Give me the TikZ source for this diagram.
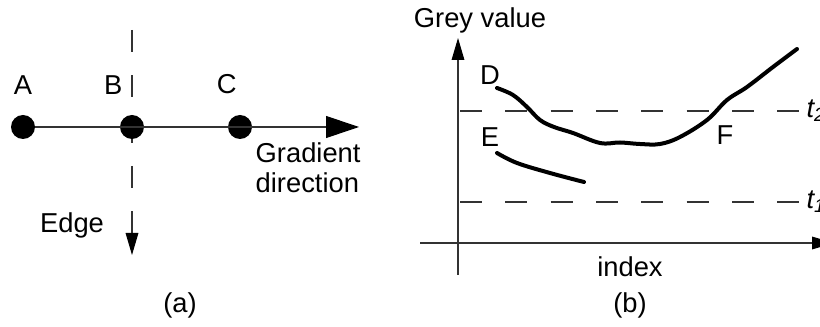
\documentclass[tikz,border=0pt]{standalone}
\usepackage{fontspec}
\setmainfont{Liberation Sans}
\usetikzlibrary{arrows.meta, positioning}

\begin{document}
\begin{tikzpicture}[x=0.75pt, y=-0.75pt, font=\fontsize{20.5}{22.5}\selectfont,
    dotnode/.style={circle, fill=black, inner sep=0pt, minimum size=18pt},
    thinline/.style={line width=0.8pt, draw=black!80},
    gapline/.style={thinline, dash pattern=on 16.5pt off 17.5pt},
    curveline/.style={line width=3pt, line cap=round},
    bigtip/.style={-{Triangle[length=24.75pt, width=16.5pt, color=black]}},
    smalltip/.style={-{Triangle[length=16.5pt, width=9.5pt, color=black]}}]
    \useasboundingbox (0,0) rectangle (820,327);

    % (a) pixels across an edge
    \coordinate (edgetop) at (132,30);
    \coordinate (edgetip) at (132,255);
    \draw [gapline, smalltip] (edgetop) -- (edgetip);

    \node [dotnode] (a) at (23,127) {};
    \node [dotnode] (b) at (132,127) {};
    \node [dotnode] (c) at (240,127) {};
    \node [above=12pt of a] (lblA) {A};
    \node [above=12pt of b, xshift=-14pt] (lblB) {B};
    \node [above=12pt of c, xshift=-10pt] (lblC) {C};

    \coordinate (gradtip) at (359,127);
    \draw [thinline, bigtip] (a) -- (gradtip);

    \node [anchor=west, align=left] (graddir) at (251,168) {Gradient\\direction};
    \node (edgelbl) at (72,225) {Edge};
    \node (capa) at (180,305) {(a)};

    % (b) grey value profiles
    \coordinate (yaxbot) at (458,275);
    \coordinate (yaxtip) at (458,38);
    \coordinate (xaxleft) at (420,243);
    \coordinate (xaxtip) at (834,243);
    \draw [thinline, smalltip] (yaxbot) -- (yaxtip);
    \draw [thinline, smalltip] (xaxleft) -- (xaxtip);

    \coordinate (tupl) at (460,111);
    \coordinate (tupr) at (805,111);
    \coordinate (tlol) at (460,202);
    \coordinate (tlor) at (805,202);
    \draw [gapline] (tupl) -- (tupr);
    \draw [gapline] (tlol) -- (tlor);
    \node [anchor=west, inner sep=1pt] (ttwo) at (tupr) {\itshape t\textsubscript{2}};
    \node [anchor=west, inner sep=1pt] (tone) at (tlor) {\itshape t\textsubscript{1}};

    \draw [curveline] plot [smooth, tension=0.6] coordinates {(497,88) (513,95) (527,107) (540,120) (554,127)
        (573,133) (600,143) (620,142.5) (640,144) (660,144) (680,137) (707,120) (727,100) (747,87) (773,67) (797,49)};
    \draw [curveline] plot [smooth, tension=0.6] coordinates {(497,153) (517,163) (550,173) (584,182)};

    \node (lblD) at (490,75) {D};
    \node (lblE) at (490,137) {E};
    \node (lblF) at (725,135) {F};
    \node (greyval) at (480,20) {Grey value};
    \node (index) at (630,267) {index};
    \node (capb) at (630,305) {(b)};
\end{tikzpicture}
\end{document}
